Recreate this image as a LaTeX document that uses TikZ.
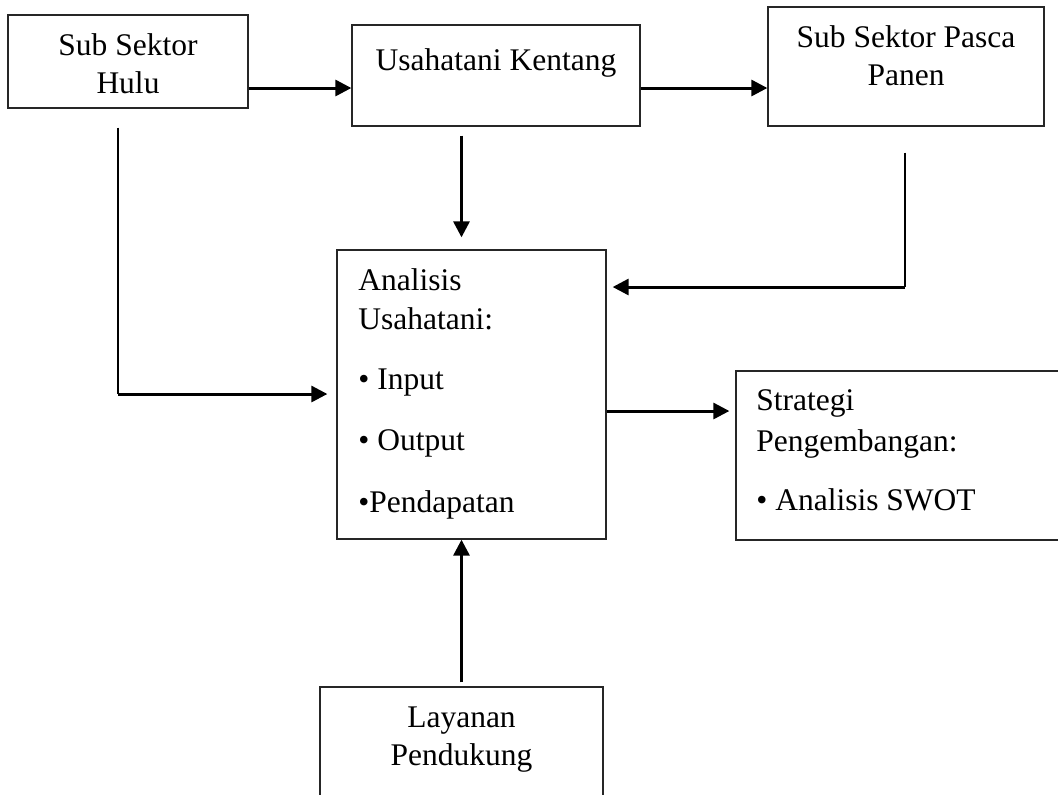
\documentclass[tikz,border=0pt]{standalone}
\usepackage{fontspec}
\setmainfont{Liberation Serif}
\usepackage{tikz}
\usetikzlibrary{arrows.meta}
\usetikzlibrary{positioning}
\usetikzlibrary{calc}

\begin{document}
\begin{tikzpicture}
        [x=0.5pt,y=-0.5pt,
        box/.style={rectangle,draw=black!85,line width=0.65pt,inner sep=0pt},
        txt/.style={inner sep=0pt,font=\fontsize{15.75}{19}\selectfont},
        on/.style={-{Triangle[length=8pt,width=8pt]},line width=1.5pt},
        link/.style={line width=1pt}]

\clip (0,0) rectangle (1058,794);

% Kotak %
\node[box,minimum width=120pt,minimum height=46.5pt] (hulu) at (128,61.5) {};
\node[box,minimum width=144pt,minimum height=50.5pt] (kentang) at (496,75.5) {};
\node[box,minimum width=138pt,minimum height=59.5pt] (pasca) at (906,66.5) {};
\node[box,minimum width=134.5pt,minimum height=144.5pt] (analisis) at (471.5,394.5) {};
\node[box,minimum width=167pt,minimum height=84.5pt] (strategi) at (903,455.5) {};
\node[box,minimum width=141.5pt,minimum height=61.5pt] (layanan) at (461.5,748.5) {};

% Teks %
\node[txt,anchor=base] (hulu1) at (128,55) {Sub Sektor};
\node[txt,anchor=base] (hulu2) at (128,93) {Hulu};
\node[txt,anchor=base] (kentang1) at (496,70) {Usahatani Kentang};
\node[txt,anchor=base] (pasca1) at (906,47) {Sub Sektor Pasca};
\node[txt,anchor=base] (pasca2) at (906,85) {Panen};
\foreach \y/\t [count=\i] in {290/Analisis,329/Usahatani:,389/\textbullet\ Input,450/\textbullet\ Output,512/\textbullet Pendapatan}
	\node[txt,anchor=base west] (ana\i) at (358,\y) {\t};
\foreach \y/\t [count=\i] in {410/Strategi,451/Pengembangan:,510/\textbullet\ Analisis SWOT}
	\node[txt,anchor=base west] (str\i) at (756,\y) {\t};
\node[txt,anchor=base] (layanan1) at (461.5,727) {Layanan};
\node[txt,anchor=base] (layanan2) at (461.5,765) {Pendukung};

% Titik bantu %
\coordinate (row1) at (0,88);
\coordinate (kiri) at (118,394);
\coordinate (kanan) at (905,287);
\coordinate (row2) at (0,411);

% Panah %
\draw[on] (hulu.east |- row1) -- (kentang.west |- row1);
\draw[on] (kentang.east |- row1) -- (pasca.west |- row1);
\draw[on,shorten <=4.5pt,shorten >=6pt] (kentang.south -| layanan.north) -- (analisis.north -| layanan.north);
\draw[link,shorten <=13pt] (pasca.south -| kanan) -- (kanan);
\draw[on,shorten >=3pt] (kanan) -- (analisis.east |- kanan);
\draw[link,shorten <=9.5pt] (hulu.south -| kiri) -- (kiri);
\draw[on,shorten >=4.5pt] (kiri) -- (analisis.west |- kiri);
\draw[on,shorten >=3pt] (analisis.east |- row2) -- (strategi.west |- row2);
\draw[on,shorten <=2pt] (layanan.north) -- (layanan.north |- analisis.south);
\end{tikzpicture}
\end{document}
